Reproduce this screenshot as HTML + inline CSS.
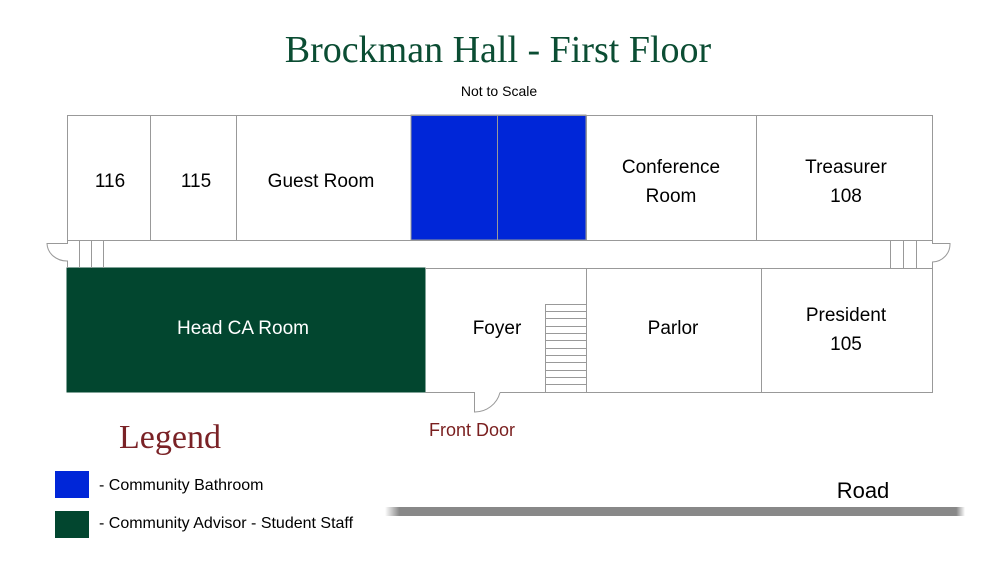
<!DOCTYPE html>
<html><head><meta charset="utf-8"><style>
html,body{margin:0;padding:0;background:#fff;}
svg{display:block;}
text{font-family:"Liberation Sans",Arial,sans-serif;}
</style></head><body>
<svg width="1000" height="581" viewBox="0 0 1000 581" xmlns="http://www.w3.org/2000/svg">
<defs>
<linearGradient id="rd" x1="0" x2="1" y1="0" y2="0">
<stop offset="0" stop-color="#fff"/><stop offset="0.025" stop-color="#888"/>
<stop offset="0.985" stop-color="#888"/><stop offset="1" stop-color="#fff"/>
</linearGradient>
</defs>
<text x="498" y="62" text-anchor="middle" font-size="38" fill="#0b4d33" style="font-family:'Liberation Serif',serif">Brockman Hall - First Floor</text>
<text x="499" y="96" text-anchor="middle" font-size="14" fill="#000">Not to Scale</text>

<g stroke="#999" stroke-width="1" fill="none">
<rect x="411" y="115" width="175" height="125" fill="#0026d8" stroke="#999"/>
<rect x="67" y="268" width="358" height="124" fill="#02462f" stroke="#02462f"/>
<path d="M67.5 115.5 H932.5 V240.5 H67.5 Z"/>
<line x1="150.5" y1="115" x2="150.5" y2="240"/>
<line x1="236.5" y1="115" x2="236.5" y2="240"/>
<line x1="497.5" y1="115" x2="497.5" y2="240"/>
<line x1="586.5" y1="115" x2="586.5" y2="240"/>
<line x1="756.5" y1="115" x2="756.5" y2="240"/>
<path d="M425 268.5 H932.5 V392.5 H500"/>
<path d="M425 392.5 H474.5 V412 A26 26 0 0 0 500 392.5"/>
<line x1="586.5" y1="268" x2="586.5" y2="392"/>
<line x1="761.5" y1="268" x2="761.5" y2="392"/>
<path d="M67.5 240 V243.5 H47 A20 18 0 0 0 67.5 261 V268"/>
<path d="M932.5 240 V243.5 H950 A18 18 0 0 1 932.5 262 V268"/>
<line x1="79.5" y1="240" x2="79.5" y2="268"/>
<line x1="91.5" y1="240" x2="91.5" y2="268"/>
<line x1="103.5" y1="240" x2="103.5" y2="268"/>
<line x1="890.5" y1="240" x2="890.5" y2="268"/>
<line x1="903.5" y1="240" x2="903.5" y2="268"/>
<line x1="916.5" y1="240" x2="916.5" y2="268"/>
<rect x="545.5" y="304.5" width="41" height="88"/>
<path d="M545 311.5H586M545 318.5H586M545 326.5H586M545 333.5H586M545 340.5H586M545 348.5H586M545 355.5H586M545 362.5H586M545 370.5H586M545 377.5H586M545 384.5H586"/>
</g>

<g font-size="19" fill="#000" text-anchor="middle">
<text x="110" y="187">116</text>
<text x="196" y="187">115</text>
<text x="321" y="187">Guest Room</text>
<text x="671" y="173">Conference</text>
<text x="671" y="202">Room</text>
<text x="846" y="173">Treasurer</text>
<text x="846" y="202">108</text>
<text x="243" y="334" fill="#fff">Head CA Room</text>
<text x="497" y="334">Foyer</text>
<text x="673" y="334">Parlor</text>
<text x="846" y="321">President</text>
<text x="846" y="350">105</text>
</g>
<text x="472" y="436" text-anchor="middle" font-size="18" fill="#7a1f1f">Front Door</text>

<text x="170" y="448" text-anchor="middle" font-size="34" fill="#7a2226" style="font-family:'Liberation Serif',serif">Legend</text>
<rect x="55" y="471" width="34" height="27" fill="#0026d8"/>
<rect x="55" y="511" width="34" height="27" fill="#02462f"/>
<text x="99" y="490" font-size="16" fill="#000">- Community Bathroom</text>
<text x="99" y="528" font-size="16" fill="#000">- Community Advisor - Student Staff</text>

<text x="863" y="498" text-anchor="middle" font-size="22" fill="#000">Road</text>
<rect x="385" y="507" width="580" height="9" fill="url(#rd)"/>
</svg>
</body></html>
